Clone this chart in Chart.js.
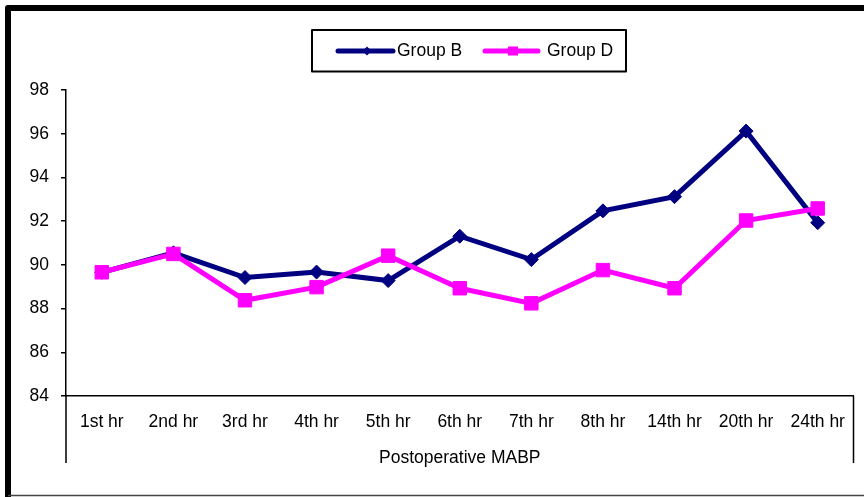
<!DOCTYPE html>
<html>
<head>
<meta charset="utf-8">
<script src="https://cdn.jsdelivr.net/npm/chart.js@4/dist/chart.umd.min.js"></script>
<style>
  html, body { margin: 0; padding: 0; background: #ffffff; }
  #wrap { width: 864px; height: 497px; }
</style>
</head>
<body>
<div id="wrap"><canvas id="c" width="864" height="497"></canvas></div>
<script>
// Mean arterial blood pressure after surgery, per time point
const categories = ['1st hr', '2nd hr', '3rd hr', '4th hr', '5th hr', '6th hr', '7th hr', '8th hr', '14th hr', '20th hr', '24th hr'];
const groupB = [89.66, 90.55, 89.42, 89.67, 89.28, 91.31, 90.24, 92.47, 93.12, 96.12, 91.93];
const groupD = [89.66, 90.50, 88.38, 88.98, 90.42, 88.93, 88.24, 89.76, 88.93, 92.03, 92.58];
const seriesNames = ['Group B', 'Group D'];
const yMin = 84, yMax = 98, yStep = 2;
const xTitle = 'Postoperative MABP';

const FONT = 'Liberation Sans, Arial, sans-serif';
const FONT_SIZE = 17.5;
const NAVY = '#000080';
const MAGENTA = '#FF00FF';

// Frame, legend box and category bracket lines
const decorations = {
  id: 'decorations',
  afterDraw(chart) {
    const ctx = chart.ctx;
    const area = chart.chartArea;
    const x = chart.scales.x;
    ctx.save();

    // outer frame
    ctx.strokeStyle = '#000';
    ctx.lineWidth = 6;
    ctx.lineJoin = 'round';
    ctx.beginPath();
    ctx.moveTo(8, 497);
    ctx.lineTo(8, 8);
    ctx.lineTo(870, 8);
    ctx.stroke();
    ctx.lineWidth = 1.5;
    ctx.strokeStyle = '#444';
    ctx.beginPath();
    ctx.moveTo(8, 495.5);
    ctx.lineTo(864, 495.5);
    ctx.stroke();

    // bracket lines bounding the outer category label
    ctx.strokeStyle = '#000';
    ctx.lineWidth = 1.5;
    ctx.beginPath();
    ctx.moveTo(x.left, area.bottom);
    ctx.lineTo(x.left, 463);
    ctx.moveTo(x.right, area.bottom);
    ctx.lineTo(x.right, 463);
    ctx.stroke();

    // legend
    ctx.lineWidth = 2;
    ctx.strokeStyle = '#000';
    ctx.strokeRect(312, 30, 314, 41.5);
    const items = [
      { name: seriesNames[0], color: NAVY, x0: 338, x1: 393, mx: 367, tx: 397, shape: 'diamond' },
      { name: seriesNames[1], color: MAGENTA, x0: 485, x1: 538, mx: 513, tx: 547, shape: 'square' }
    ];
    const ly = 51;
    items.forEach(it => {
      ctx.strokeStyle = it.color;
      ctx.fillStyle = it.color;
      ctx.lineWidth = 5;
      ctx.lineCap = 'round';
      ctx.beginPath();
      ctx.moveTo(it.x0, ly);
      ctx.lineTo(it.x1, ly);
      ctx.stroke();
      ctx.beginPath();
      if (it.shape === 'diamond') {
        ctx.moveTo(it.mx, ly - 4.5);
        ctx.lineTo(it.mx + 4.5, ly);
        ctx.lineTo(it.mx, ly + 4.5);
        ctx.lineTo(it.mx - 4.5, ly);
        ctx.closePath();
      } else {
        ctx.rect(it.mx - 5, ly - 4.5, 10, 9);
      }
      ctx.fill();
      ctx.fillStyle = '#000';
      ctx.font = FONT_SIZE + 'px ' + FONT;
      ctx.textAlign = 'left';
      ctx.textBaseline = 'middle';
      ctx.fillText(it.name, it.tx, ly);
    });
    ctx.restore();
  }
};

new Chart(document.getElementById('c'), {
  type: 'line',
  data: {
    labels: categories,
    datasets: [
      {
        label: seriesNames[0],
        data: groupB,
        borderColor: NAVY,
        backgroundColor: NAVY,
        borderWidth: 5,
        pointStyle: 'rectRot',
        pointRadius: 7,
        pointBorderWidth: 1,
        tension: 0,
        order: 2
      },
      {
        label: seriesNames[1],
        data: groupD,
        borderColor: MAGENTA,
        backgroundColor: MAGENTA,
        borderWidth: 5,
        pointStyle: 'rect',
        pointRadius: 9.5,
        pointBorderWidth: 1,
        tension: 0,
        order: 1
      }
    ]
  },
  options: {
    responsive: false,
    animation: false,
    devicePixelRatio: 1,
    layout: { padding: { top: 90, right: 10, bottom: 0, left: 0 } },
    plugins: {
      legend: { display: false },
      tooltip: { enabled: false }
    },
    scales: {
      x: {
        type: 'category',
        offset: true,
        grid: { display: false, drawTicks: false },
        border: { display: true, color: '#000', width: 1.5 },
        ticks: { color: '#000', font: { family: FONT, size: FONT_SIZE }, padding: 16, maxRotation: 0, autoSkip: false },
        title: { display: true, text: xTitle, color: '#000', font: { family: FONT, size: FONT_SIZE }, padding: { top: 4, bottom: 28 } },
        afterFit(scale) { scale.height = 101; }
      },
      y: {
        min: yMin,
        max: yMax,
        grid: { drawOnChartArea: false, drawTicks: true, tickLength: 5, color: '#000', lineWidth: 1.5 },
        border: { display: true, color: '#000', width: 1.5 },
        ticks: { stepSize: yStep, color: '#000', font: { family: FONT, size: FONT_SIZE }, padding: 12 },
        afterFit(scale) { scale.width = 66; }
      }
    }
  },
  plugins: [decorations]
});
</script>
</body>
</html>
